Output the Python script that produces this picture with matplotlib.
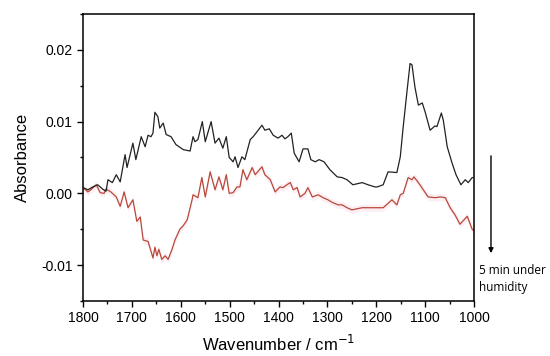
import matplotlib
matplotlib.use("Agg")
import matplotlib.pyplot as plt
from matplotlib.ticker import MultipleLocator
import numpy as np

plt.rcParams['font.family'] = ['Liberation Sans', 'DejaVu Sans']

black_wn = [1800, 1790, 1780, 1770, 1760, 1753, 1749, 1740, 1732, 1724, 1714, 1710, 1698, 1692,
            1681, 1673, 1667, 1661, 1657, 1653, 1647, 1643, 1636, 1630, 1620, 1610, 1595, 1581,
            1575, 1571, 1565, 1556, 1550, 1538, 1530, 1522, 1514, 1507, 1501, 1493, 1489, 1483,
            1475, 1469, 1458, 1452, 1444, 1434, 1428, 1419, 1411, 1401, 1393, 1387, 1381, 1374,
            1368, 1358, 1350, 1340, 1334, 1325, 1317, 1307, 1295, 1280, 1270, 1260, 1248, 1229,
            1217, 1203, 1198, 1186, 1176, 1158, 1151, 1145, 1137, 1131, 1127, 1121, 1114, 1106,
            1100, 1090, 1080, 1076, 1067, 1063, 1055, 1045, 1037, 1027, 1018, 1012, 1004, 1000]
black_abs = [0.0008, 0.0005, 0.0009, 0.0012, 0.0006, 0.0003, 0.0019, 0.0015, 0.0026, 0.0016, 0.0054,
             0.0036, 0.0070, 0.0047, 0.0079, 0.0065, 0.0081, 0.0079, 0.0084, 0.0113, 0.0107, 0.0091,
             0.0098, 0.0082, 0.0079, 0.0068, 0.0061, 0.0059, 0.0079, 0.0072, 0.0075, 0.0100, 0.0072,
             0.0100, 0.0070, 0.0077, 0.0063, 0.0079, 0.0050, 0.0044, 0.0051, 0.0036, 0.0051, 0.0047,
             0.0075, 0.0079, 0.0086, 0.0095, 0.0088, 0.0090, 0.0081, 0.0077, 0.0081, 0.0076, 0.0079,
             0.0084, 0.0056, 0.0044, 0.0062, 0.0062, 0.0047, 0.0044, 0.0047, 0.0044, 0.0033, 0.0023,
             0.0022, 0.0019, 0.0012, 0.0015, 0.0012, 0.0009, 0.0009, 0.0012, 0.0030, 0.0029, 0.0051,
             0.0093, 0.0144, 0.0181, 0.0179, 0.0148, 0.0123, 0.0126, 0.0113, 0.0088, 0.0094, 0.0093,
             0.0112, 0.0102, 0.0065, 0.0042, 0.0026, 0.0012, 0.0019, 0.0015, 0.0022, 0.0022]

red_wn = [1800, 1790, 1784, 1773, 1765, 1757, 1753, 1743, 1732, 1724, 1716, 1708, 1698, 1690, 1683,
          1677, 1667, 1657, 1653, 1649, 1645, 1639, 1632, 1626, 1618, 1612, 1602, 1595, 1587, 1577,
          1575, 1565, 1557, 1550, 1540, 1530, 1522, 1514, 1507, 1501, 1493, 1485, 1479, 1473, 1465,
          1454, 1448, 1434, 1428, 1417, 1407, 1397, 1391, 1383, 1376, 1370, 1362, 1356, 1346, 1340,
          1331, 1319, 1309, 1299, 1289, 1278, 1270, 1260, 1250, 1229, 1217, 1203, 1186, 1168, 1158,
          1151, 1145, 1135, 1127, 1123, 1114, 1104, 1094, 1080, 1069, 1059, 1049, 1039, 1029, 1014,
          1004, 1000]
red_abs = [0.0008, 0.0002, 0.0005, 0.0012, 0.0001, 0.0000, 0.0006, 0.0002, -0.0005, -0.0018, 0.0002,
           -0.0020, -0.0009, -0.0039, -0.0033, -0.0065, -0.0067, -0.0090, -0.0075, -0.0087, -0.0078,
           -0.0092, -0.0087, -0.0092, -0.0078, -0.0065, -0.0050, -0.0045, -0.0037, -0.0009, -0.0002,
           -0.0006, 0.0022, -0.0005, 0.0030, 0.0005, 0.0023, 0.0005, 0.0026, 0.0000, 0.0001, 0.0009,
           0.0009, 0.0033, 0.0019, 0.0036, 0.0026, 0.0037, 0.0026, 0.0019, 0.0002, 0.0009, 0.0008,
           0.0012, 0.0015, 0.0005, 0.0008, -0.0005, 0.0000, 0.0008, -0.0005, -0.0002, -0.0006, -0.0009,
           -0.0013, -0.0016, -0.0016, -0.0020, -0.0023, -0.0020, -0.0020, -0.0020, -0.0020, -0.0009,
           -0.0016, -0.0002, 0.0000, 0.0022, 0.0019, 0.0023, 0.0015, 0.0005, -0.0005, -0.0006, -0.0005,
           -0.0006, -0.0020, -0.0030, -0.0043, -0.0032, -0.0050, -0.0052]

x_ticks = [1800, 1700, 1600, 1500, 1400, 1300, 1200, 1100, 1000]
y_ticks = [-0.01, 0.00, 0.01, 0.02]
y_tick_labels = ['-0.01', '0.00', '0.01', '0.02']

fig = plt.figure(figsize=(5.5, 3.56), dpi=100)
ax = fig.add_axes([0.151, 0.1545, 0.711, 0.8062])

red_abs_arr = np.array(red_abs)
ax.fill_between(red_wn, red_abs_arr - 0.0005, red_abs_arr + 0.0005, color='#fdeef3', lw=0, zorder=1)
ax.plot(black_wn, black_abs, color='#222222', lw=0.9, zorder=3)
ax.plot(red_wn, red_abs, color='#b8483a', lw=0.9, zorder=2)

ax.set_xlim(1800, 1000)
ax.set_ylim(-0.015, 0.025)
ax.set_xticks(x_ticks)
ax.set_xticklabels([str(v) for v in x_ticks])
ax.set_yticks(y_ticks)
ax.set_yticklabels(y_tick_labels)
ax.xaxis.set_minor_locator(MultipleLocator(50))
ax.yaxis.set_minor_locator(MultipleLocator(0.005))
ax.tick_params(which='major', direction='out', length=4, width=1, labelsize=10, top=False, right=False)
ax.tick_params(which='minor', direction='out', length=2.5, width=1, top=False, right=False)
for s in ax.spines.values():
    s.set_linewidth(1.1)

ax.set_xlabel('Wavenumber / cm$^{-1}$', fontsize=12, labelpad=6)
ax.set_ylabel('Absorbance', fontsize=12, labelpad=8)

ax.annotate('', xy=(0.8927, 0.281), xytext=(0.8927, 0.570), xycoords='figure fraction',
            textcoords='figure fraction',
            arrowprops=dict(arrowstyle='-|>', color='black', lw=1, mutation_scale=7))
fig.text(0.871, 0.258, '5 min under\nhumidity', fontsize=8.5, va='top', ha='left',
         family=['Open Sans', 'DejaVu Sans'], linespacing=1.4)

fig.savefig('out.png', dpi=100)
